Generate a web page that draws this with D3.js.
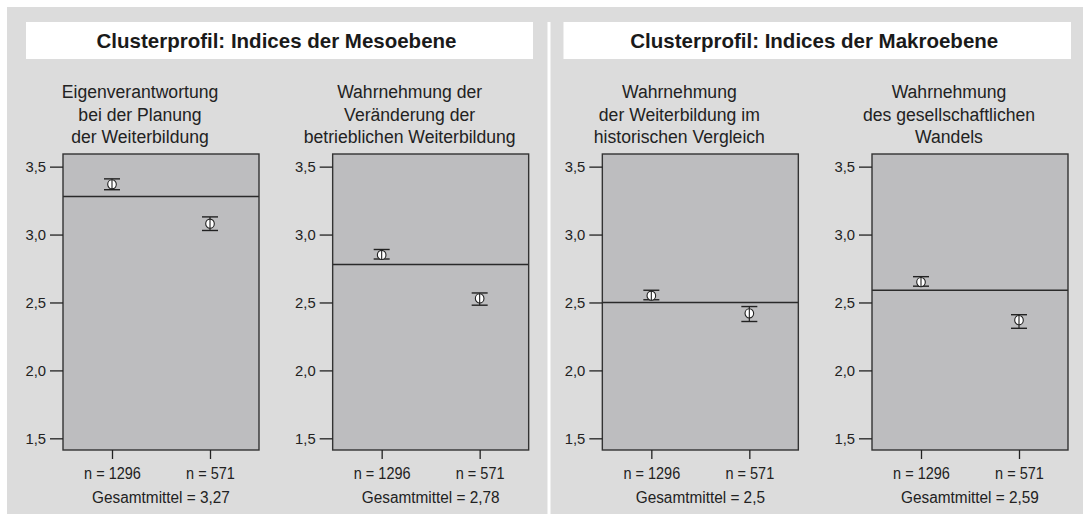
<!DOCTYPE html>
<html><head><meta charset="utf-8">
<script src="https://cdn.jsdelivr.net/npm/d3@7"></script>
<style>
html,body{margin:0;padding:0;background:#fff;}
text{font-family:"Liberation Sans",Arial,sans-serif;fill:#222;}
</style></head>
<body><svg id="chart" width="1083" height="514"></svg>
<script>
// ---- data ----
const sectionTitles = ["Clusterprofil: Indices der Mesoebene", "Clusterprofil: Indices der Makroebene"];
const panelTitles = [
  ["Eigenverantwortung", "bei der Planung", "der Weiterbildung"],
  ["Wahrnehmung der", "Veränderung der", "betrieblichen Weiterbildung"],
  ["Wahrnehmung", "der Weiterbildung im", "historischen Vergleich"],
  ["Wahrnehmung", "des gesellschaftlichen", "Wandels"]
];
const clusters = ["n = 1296", "n = 571"];
const meansC1 = [3.37, 2.85, 2.55, 2.65];
const meansC2 = [3.08, 2.53, 2.42, 2.37];
const lowerC1 = [3.33, 2.82, 2.52, 2.62];
const upperC1 = [3.41, 2.89, 2.59, 2.69];
const lowerC2 = [3.03, 2.48, 2.36, 2.31];
const upperC2 = [3.13, 2.57, 2.47, 2.41];
const grandMeanLine = [3.28, 2.78, 2.50, 2.59];
const grandMeanLabel = ["3,27", "2,78", "2,5", "2,59"];
const yTicks = [1.5, 2.0, 2.5, 3.0, 3.5];

// ---- layout ----
const svg = d3.select("#chart");
const fmt = d3.format(".1f");
const comma = v => fmt(v).replace(".", ",");

svg.append("rect").attr("x", 7).attr("y", 7).attr("width", 1076).attr("height", 507).attr("fill", "#dcdcdc");
svg.append("rect").attr("x", 547.5).attr("y", 22).attr("width", 3).attr("height", 492).attr("fill", "#fff");

const titleBoxes = [[26, 533], [563.5, 1071]];
sectionTitles.forEach((t, i) => {
  const [x0, x1] = titleBoxes[i];
  svg.append("rect").attr("x", x0).attr("y", 22).attr("width", x1 - x0).attr("height", 37).attr("fill", "#fff");
  svg.append("text").attr("x", (x0 + x1) / 2 - 3).attr("y", 47.5).attr("text-anchor", "middle")
    .attr("font-size", 20.5).attr("font-weight", "bold").style("fill", "#1a1a1a").text(t);
});

const panelX = d3.scaleLinear().domain([0, 3]).range([63, 872]);
const pw = 196;
const y = d3.scaleLinear().domain([1.414, 3.593]).range([450, 154]);

const panels = panelTitles.map((t, i) => ({
  i, title: t,
  pts: [
    {c: clusters[0], m: meansC1[i], lo: lowerC1[i], hi: upperC1[i]},
    {c: clusters[1], m: meansC2[i], lo: lowerC2[i], hi: upperC2[i]}
  ],
  line: grandMeanLine[i], label: grandMeanLabel[i]
}));

panels.forEach(p => {
  const x0 = panelX(p.i);
  const g = svg.append("g").attr("transform", `translate(${x0},0)`);
  const x = d3.scalePoint().domain(clusters).range([0, pw]).padding(0.5);

  // subtitle
  p.title.forEach((line, k) => {
    g.append("text").attr("x", pw / 2 - 21).attr("y", 98.4 + k * 22.5).attr("text-anchor", "middle")
      .attr("font-size", 17.6).text(line);
  });

  g.append("rect").attr("x", 0).attr("y", y.range()[1]).attr("width", pw)
    .attr("height", y.range()[0] - y.range()[1]).attr("fill", "#bdbdbf");

  // reference line
  g.append("line").attr("x1", 0).attr("x2", pw).attr("y1", y(p.line)).attr("y2", y(p.line))
    .attr("stroke", "#2a2a2a").attr("stroke-width", 1.4);

  // error bars
  const eb = g.selectAll("g.eb").data(p.pts).enter().append("g").attr("class", "eb")
    .attr("transform", d => `translate(${x(d.c)},0)`);
  eb.append("line").attr("y1", d => y(d.hi)).attr("y2", d => y(d.lo)).attr("stroke", "#222").attr("stroke-width", 1.2);
  eb.append("line").attr("x1", -8).attr("x2", 8).attr("y1", d => y(d.hi)).attr("y2", d => y(d.hi)).attr("stroke", "#222").attr("stroke-width", 1.4);
  eb.append("line").attr("x1", -8).attr("x2", 8).attr("y1", d => y(d.lo)).attr("y2", d => y(d.lo)).attr("stroke", "#222").attr("stroke-width", 1.4);
  eb.append("ellipse").attr("cy", d => y(d.m)).attr("rx", 4.3).attr("ry", 4.6).attr("fill", "#fff").attr("stroke", "#222").attr("stroke-width", 1.1);
  eb.append("line").attr("y1", d => y(d.m) - 4.6).attr("y2", d => y(d.m) + 4.6).attr("stroke", "#222").attr("stroke-width", 1.1);

  // frame
  g.append("rect").attr("x", 0).attr("y", y.range()[1]).attr("width", pw)
    .attr("height", y.range()[0] - y.range()[1]).attr("fill", "none").attr("stroke", "#333").attr("stroke-width", 1.4);

  // y axis
  const ya = g.append("g").attr("font-family", null)
    .call(d3.axisLeft(y).tickValues(yTicks).tickFormat(comma).tickSize(13).tickPadding(4));
  ya.attr("font-family", null).attr("font-size", null);
  ya.select(".domain").remove();
  ya.selectAll(".tick line").attr("stroke", "#222").attr("stroke-width", 1.3);
  ya.selectAll(".tick text").attr("font-size", 14.8).style("fill", "#222");

  // x axis
  const xa = g.append("g").attr("transform", `translate(0,${y.range()[0]})`)
    .call(d3.axisBottom(x).tickSize(9).tickPadding(9));
  xa.attr("font-family", null).attr("font-size", null);
  xa.select(".domain").remove();
  xa.selectAll(".tick line").attr("stroke", "#222").attr("stroke-width", 1.3);
  xa.selectAll(".tick text").attr("font-size", 15.6).attr("transform", "scale(0.93,1)").style("fill", "#222");

  g.append("text").attr("transform", `translate(${pw / 2},503) scale(0.96,1)`).attr("text-anchor", "middle")
    .attr("font-size", 16).text("Gesamtmittel = " + p.label);
});
</script></body></html>
